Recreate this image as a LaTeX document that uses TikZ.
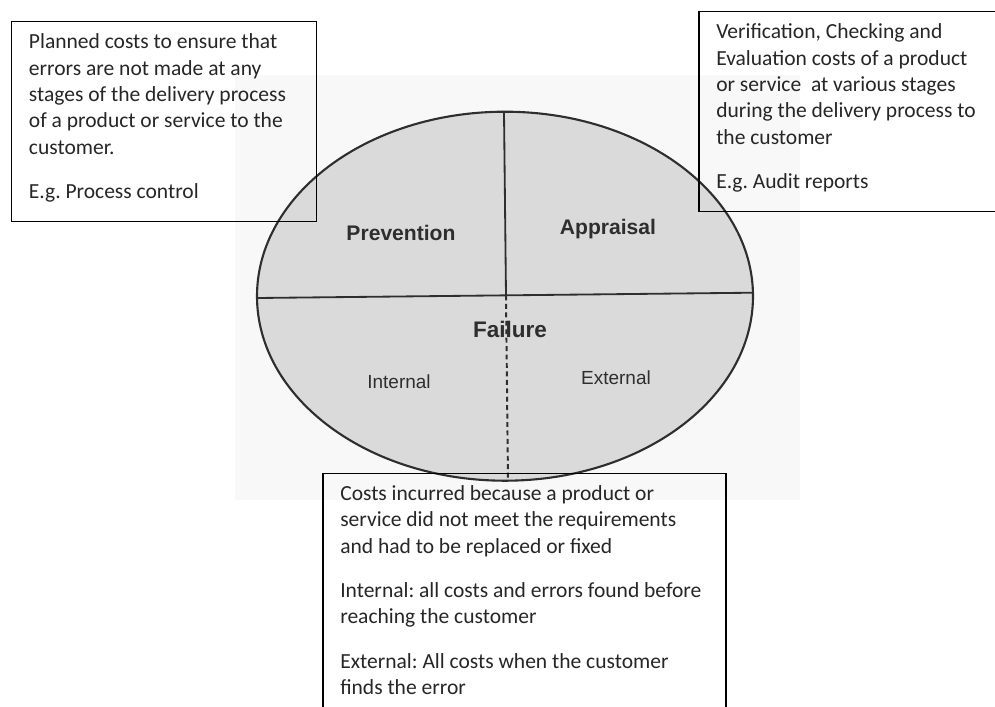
\documentclass[tikz,border=0pt]{standalone}
\usepackage{fontspec}
\setmainfont{Carlito}
\newfontfamily\labelfont{Liberation Sans}
\usetikzlibrary{calc}
\frenchspacing

\definecolor{inkgray}{HTML}{2E2E2E}
\definecolor{ovalfill}{HTML}{DADADA}
\definecolor{pagegray}{HTML}{F8F8F8}

\tikzset{
  notebox/.style={draw=black, line width=1pt},
  notetext/.style={anchor=north west, inner sep=0pt, align=left,
    font=\fontsize{15.3pt}{18.7pt}\selectfont, text=black!85},
  bigsector/.style={font=\labelfont\bfseries\fontsize{15pt}{18pt}\selectfont, text=inkgray},
  subsector/.style={font=\labelfont\fontsize{13.5pt}{16pt}\selectfont, text=inkgray},
  divider/.style={draw=inkgray, line width=1.3pt},
}

\begin{document}
\begin{tikzpicture}[x=0.025cm, y=-0.025cm]
  \useasboundingbox (0,0) rectangle (995,706);

  % faint scanned page behind the oval
  \fill[pagegray] (235,75) rectangle (800,500);

  % the cost-of-quality oval
  \draw[draw=inkgray, line width=1.5pt, fill=ovalfill]
    (505,296.2) ellipse [x radius=248, y radius=184.5];
  \coordinate (ovL) at (257,298);
  \coordinate (ovR) at (753,292.7);
  \coordinate (ovT) at (504,112);
  \coordinate (ovC) at (506,295.5);
  \coordinate (ovB) at (508,480.5);
  \draw[divider] (ovL) -- (ovR);
  \draw[divider] (ovT) -- (ovC);
  \draw[divider, line width=1.4pt, dash pattern=on 3.5pt off 2.5pt] (ovC) -- (ovB);

  \node[bigsector] (prev) at (401,233) {Prevention};
  \node[bigsector] (appr) at (608,229) {Appraisal};
  \node[bigsector, font=\labelfont\bfseries\fontsize{16pt}{19pt}\selectfont] (fail) at (510,329) {Failure};
  \node[subsector] (intl) at (399,382) {Internal};
  \node[subsector] (extl) at (616,378) {External};

  % explanatory notes (open frames laid over the oval)
  \draw[notebox] (11.7,21.7) rectangle (316.7,221.7);
  \coordinate (noteA) at (11.7,21.7);
  \node[notetext] (prevnote) at ($(noteA)+(17,12)$) {%
    Planned costs to ensure that\\
    errors are not made at any\\
    stages of the delivery process\\
    of a product or service to the\\
    customer.\\[13pt]
    E.g. Process control};

  \draw[notebox] (699,11.7) rectangle (1010,211.7);
  \coordinate (noteB) at (699,11.7);
  \node[notetext] (apprnote) at ($(noteB)+(17,12)$) {%
    Verification, Checking and\\
    Evaluation costs of a product\\
    or service\ \ at various stages\\
    during the delivery process to\\
    the customer\\[13pt]
    E.g. Audit reports};

  \draw[notebox] (323,473.3) rectangle (726,730);
  \coordinate (noteC) at (323,473.3);
  \node[notetext] (failnote) at ($(noteC)+(17,12)$) {%
    Costs incurred because a product or\\
    service did not meet the requirements\\
    and had to be replaced or fixed\\[13pt]
    Internal: all costs and errors found before\\
    reaching the customer\\[13pt]
    External: All costs when the customer\\
    finds the error};
\end{tikzpicture}
\end{document}
